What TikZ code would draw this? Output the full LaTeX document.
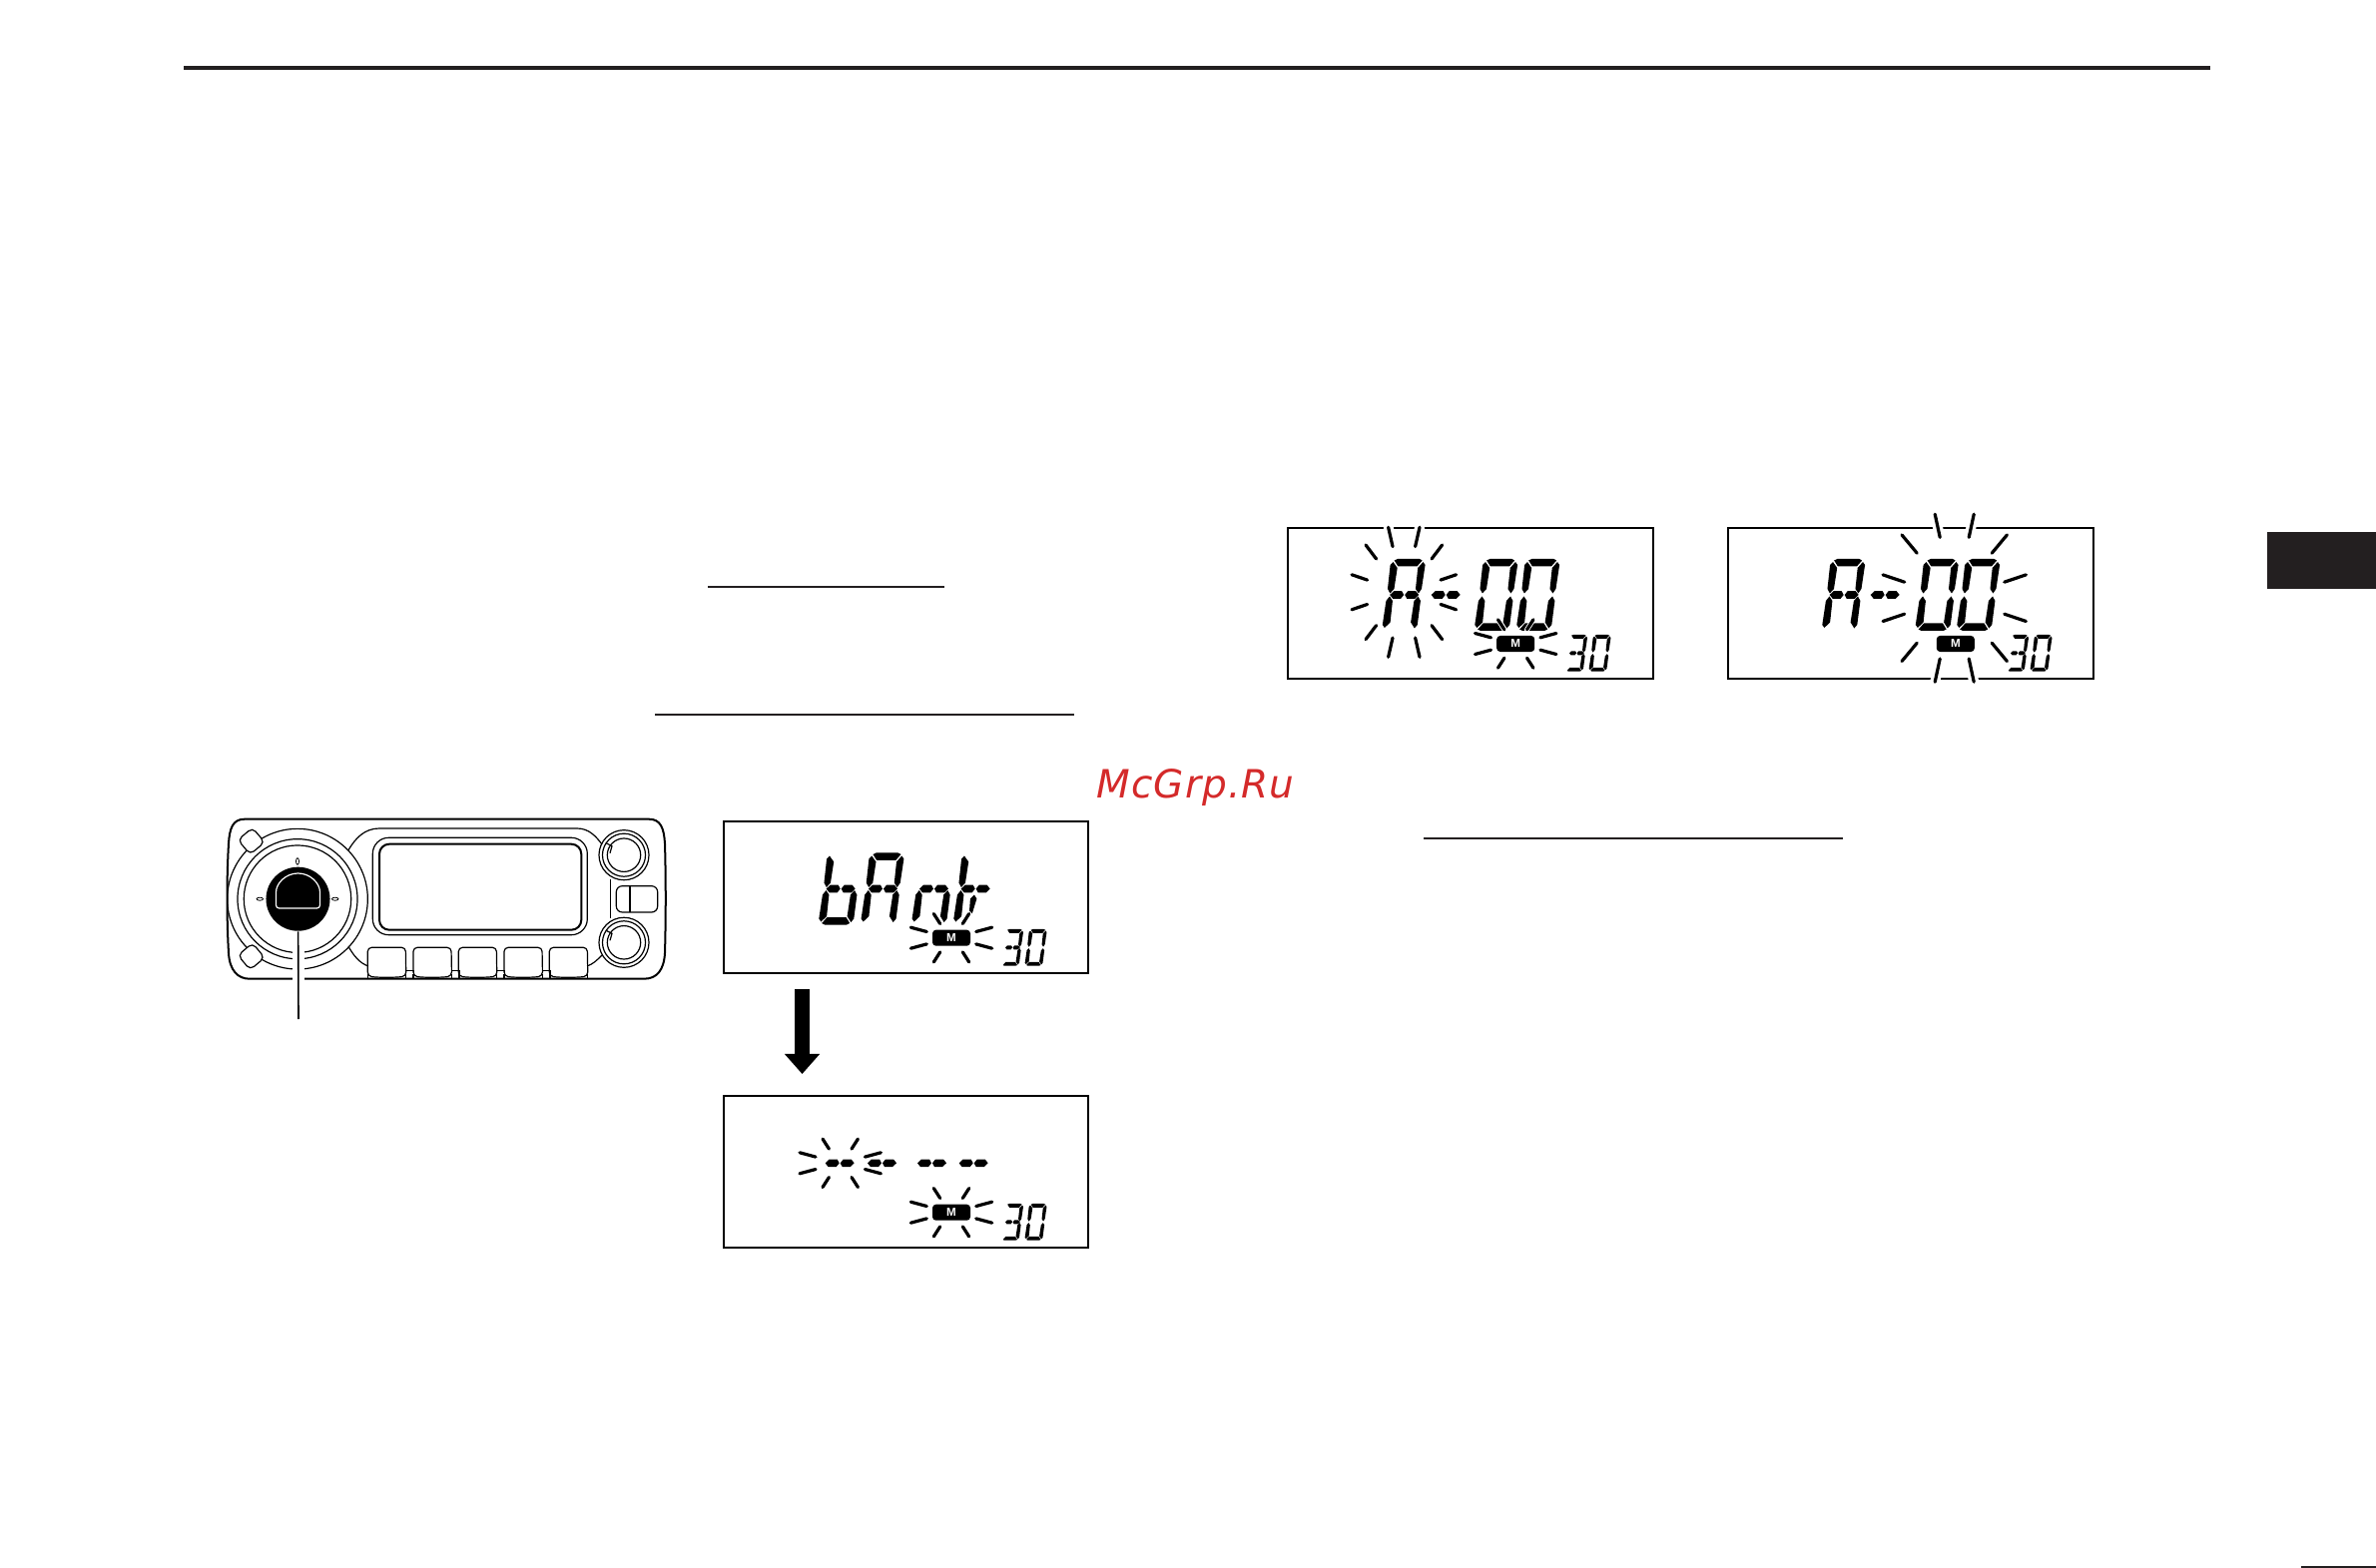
\documentclass[tikz,border=0pt]{standalone}
\usepackage{fontspec}
\usepackage{tikz}
\usetikzlibrary{arrows.meta,shapes.geometric}
\newfontfamily\markfont[LetterSpace=2.6]{DejaVu Sans}
\newfontfamily\badgefont{Liberation Sans}
\definecolor{ink}{HTML}{231F20}
\definecolor{markred}{HTML}{D42A2A}

\tikzset{
	rule/.style={ink, line width=.04cm},
	thinrule/.style={ink, line width=.022cm},
	lcdbox/.style={draw=black, line width=.022cm, outer sep=0pt},
	lcdray/.style={black, line width=.032cm, line cap=round},
	lcdhalo/.style={white, line width=#1, line cap=round},
	badge/.style={draw=none, fill=black, rectangle, rounded corners=.035cm, minimum width=.38cm, minimum height=.16cm, inner sep=0pt, text=white, font=\badgefont\bfseries\fontsize{3.3}{4}\selectfont},
	radio/.style={black, line width=.012cm},
	radiothick/.style={black, line width=.02cm},
	lug/.style={draw=black, fill=white, line width=.012cm, rectangle, rotate=40, rounded corners=.05cm, minimum size=.19cm, inner sep=0pt},
	tick/.style={draw=black, fill=white, line width=.008cm, ellipse, inner sep=0pt}
}

% LCD segments, one character is 34 wide and 72 high
\newcommand{\lcdsega}{(3,1.5)--(6,0)--(28,0)--(31,1.5)--(26.5,7.5)--(7.5,7.5)--cycle}
\newcommand{\lcdsegb}{(32,3)--(34.5,6)--(34,30)--(31.5,34.5)--(28,30)--(27.5,9)--cycle}
\newcommand{\lcdsegc}{(31.5,37.5)--(34.5,42)--(34.5,66)--(32,69.5)--(27.5,63.5)--(28,42)--cycle}
\newcommand{\lcdsegd}{(3,70.5)--(7.5,64.5)--(26.5,64.5)--(31,70.5)--(28,72)--(6,72)--cycle}
\newcommand{\lcdsege}{(3,37.5)--(6.5,42)--(7,63.5)--(2,69)--(-.5,66)--(0,42)--cycle}
\newcommand{\lcdsegf}{(2,3)--(7,9)--(6.5,30)--(3,34.5)--(0,30)--(-.5,6)--cycle}
\newcommand{\lcdsegp}{(3,36)--(6.5,32.2)--(14.5,32.2)--(17,36)--(14.5,39.8)--(6.5,39.8)--cycle}
\newcommand{\lcdsegq}{(18,36)--(20.5,32.2)--(28.5,32.2)--(32,36)--(28.5,39.8)--(20.5,39.8)--cycle}
\newcommand{\lcdsegr}{(17,42)--(20,46)--(17.5,60)--(14.5,63)--(13.5,46)--cycle}
\newcommand{\lcdchar}[4]{
	\begin{scope}[shift={(#1,#2)}, xslant=.13, scale=#3, shift={(0,-72)}]
		\foreach \seg in {#4} {\fill[black] \csname lcdseg\seg\endcsname;}
	\end{scope}
}
\newcommand{\lcdthirty}[2]{
	\lcdchar{#1}{#2}{.51}{a,b,c,d,p,q}
	\lcdchar{#1+23.5}{#2}{.51}{a,b,c,d,e,f}
}
\newcommand{\lcdburst}[4]{
	\foreach \xa/\ya/\xb/\yb in #3 {
		\foreach \sx in {-1,1} {
			\foreach \sy in {-1,1} {
				\draw[lcdhalo=#4] ({#1+\sx*\xa},{#2+\sy*\ya}) -- ({#1+\sx*\xb},{#2+\sy*\yb});
				\draw[lcdray] ({#1+\sx*\xa},{#2+\sy*\ya}) -- ({#1+\sx*\xb},{#2+\sy*\yb});
			}
		}
	}
}
\newcommand{\smallrays}{11.3/14.2/17.7/24.2, 24.7/6.2/40.7/10.5}
\newcommand{\grouprays}{11.3/45.7/15.7/65, 27.7/33.3/38.3/47.3, 36.7/12.2/52.3/17.5}
\newcommand{\chanrays}{14.5/60.8/19.5/84, 37.5/45/52.7/63.3, 50/16/71.7/23.3}

\begin{document}
\begin{tikzpicture}[x=.01cm, y=-.01cm]
	\useasboundingbox (0,0) rectangle (2380,1571);
	
	% Page rules
	\coordinate (topa) at (184,68);
	\coordinate (topb) at (2214,68);
	\draw[rule] (topa) -- (topb);
	\coordinate (linea) at (709,588);
	\coordinate (lineb) at (946,588);
	\draw[thinrule] (linea) -- (lineb);
	\coordinate (linec) at (656,716);
	\coordinate (lined) at (1076,716);
	\draw[thinrule] (linec) -- (lined);
	\coordinate (linee) at (1426,840);
	\coordinate (linef) at (1846,840);
	\draw[thinrule] (linee) -- (linef);
	\node (tab) [fill=ink, rectangle, outer sep=0pt, minimum width=1.09cm, minimum height=.57cm, inner sep=0pt, anchor=north west] at (2271,533) {};
	\coordinate (folioa) at (2305,1570);
	\coordinate (foliob) at (2380,1570);
	\draw[thinrule] (folioa) -- (foliob);
	\node (watermark) [text=markred, anchor=base west, inner sep=0pt, font=\markfont\itshape\fontsize{11.1}{13}\selectfont] at (1098,800) {McGrp.Ru};
	
	% Radio panel
	\draw[radiothick] (245,820.7) -- (650,820.7) .. controls (662,820.7) and (665,830) .. (666,845) .. controls (667,880) and (667,920) .. (666,955) .. controls (665,972) and (658,980.7) .. (645,980.7) -- (250,980.7) .. controls (238,980.7) and (230,972) .. (229,955) .. controls (227,920) and (227,880) .. (229,845) .. controls (230,830) and (233,820.7) .. (245,820.7) -- cycle;
	\draw[radio] (349,851.7) .. controls (356,840) and (365,830) .. (380,830) -- (578,830) .. controls (590,830) and (597,838) .. (603,846);
	\draw[radio] (349,948.3) .. controls (354,957) and (360,965) .. (369,968);
	\draw[radio] (588,968) .. controls (594,966) and (598,962) .. (603,957);
	\draw[radio] (611.7,881) -- (611.7,920);
	\draw[radio, rounded corners=.16cm] (373.3,839.3) rectangle (588.3,936.7);
	\draw[radiothick, rounded corners=.1cm] (380,845.7) rectangle (582.3,931.7);
	
	\foreach \ky in {856.7,944.3} {
		\draw[radio] (625,\ky) circle [radius=.25cm];
		\draw[radio] (625,\ky) circle [radius=.215cm];
		\draw[radio] (625,\ky) circle [radius=.167cm];
		\draw[radio] (607,{\ky-12}) -- (613,{\ky-9}) -- (611,{\ky-2});
	}
	\draw[radio, rounded corners=.06cm] (617.3,887.7) rectangle (658.7,914);
	\draw[radio] (631,887.7) -- (631,914);
	
	\foreach \bx in {368.3,414,459.3,505,550.3} {
		\draw[radio, rounded corners=.04cm] (\bx,949.3) -- ({\bx+38},949.3) -- ({\bx+38.5},978) .. controls ({\bx+28},979.5) and ({\bx+10},979.5) .. (\bx,978) -- cycle;
		\draw[radio] (\bx,976) -- (\bx,980);
		\draw[radio] ({\bx+38.5},976) -- ({\bx+38.5},980);
	}
	\foreach \gx in {406.8,452.5,497.8,543.5} {
		\draw[radio] (\gx,972.7) -- ({\gx+7.5},972.7);
		\draw[radio] ({\gx+7.5},972) -- ({\gx+7.5},980);
	}
	
	% Dial
	\draw[radio] (298,900.7) circle [radius=.703cm];
	\draw[radio] (298,900.7) circle [radius=.6cm];
	\draw[radio] (298,900.7) circle [radius=.537cm];
	\node (luga) [lug] at (251.7,842.7) {};
	\node (lugb) [lug] at (251.7,958.3) {};
	\node (ticka) [tick, minimum width=.03cm, minimum height=.065cm] at (298,863) {};
	\node (tickb) [tick, minimum width=.065cm, minimum height=.03cm] at (260.3,900.7) {};
	\node (tickc) [tick, minimum width=.065cm, minimum height=.03cm] at (335.7,900.7) {};
	\coordinate (leaderend) at (299,1021);
	\fill[white] (293,935) rectangle (305,982.5);
	\node (dialknob) [circle, fill=black, minimum size=.64cm, inner sep=0pt] at (298.5,900.7) {};
	\draw[white, line width=.012cm, rounded corners=.03cm] (276.5,910) -- (276.5,897) arc (180:0:.22cm) -- (320.5,910) -- cycle;
	\draw[black, line width=.016cm] (dialknob) -- (leaderend);
	
	% Bank display
	\node (bankbox) [lcdbox, rectangle, minimum width=3.65cm, minimum height=1.52cm, inner sep=0pt, anchor=north west] at (725,822.7) {};
	\lcdchar{820}{926.5}{1}{c,d,e,f,p,q}
	\lcdchar{862.3}{926.5}{1}{a,b,c,e,f,p,q}
	\lcdchar{913.3}{926.5}{1}{c,e,p,q}
	\lcdchar{955}{926.5}{1}{e,f,p,q,r}
	\lcdthirty{1003}{967.7}
	\lcdburst{953}{939.7}{\smallrays}{.05cm}
	\node (banktag) [badge] at (953,939.7) {M};
	
	% Arrow
	\coordinate (arrowtop) at (803.5,991);
	\coordinate (arrowtip) at (803.5,1076);
	\draw[black, line width=.145cm, -{Triangle[length=.2cm, width=.34cm]}] (arrowtop) -- (arrowtip);
	
	% Blank display
	\node (blankbox) [lcdbox, rectangle, minimum width=3.65cm, minimum height=1.52cm, inner sep=0pt, anchor=north west] at (725,1097.7) {};
	\foreach \cx in {819,861.3,911.3,953} {
		\lcdchar{\cx}{1201.3}{1}{p,q}
	}
	\lcdburst{841.7}{1165.3}{\smallrays}{.05cm}
	\lcdthirty{1003}{1242.7}
	\lcdburst{953}{1214.7}{\smallrays}{.05cm}
	\node (blanktag) [badge] at (953,1214.7) {M};
	
	% Group display
	\node (groupbox) [lcdbox, rectangle, minimum width=3.66cm, minimum height=1.51cm, inner sep=0pt, anchor=north west] at (1290,529) {};
	\lcdchar{1384.5}{632}{1}{a,b,c,e,f,p,q}
	\lcdchar{1426}{632}{1}{p,q}
	\lcdchar{1477}{632}{1}{a,b,c,d,e,f}
	\lcdchar{1519}{632}{1}{a,b,c,d,e,f}
	\lcdthirty{1568}{672.7}
	\lcdburst{1406.3}{593.3}{\grouprays}{.1cm}
	\lcdburst{1518.2}{645}{\smallrays}{.05cm}
	\node (grouptag) [badge] at (1518.2,645) {M};
	
	% Channel display
	\node (chanbox) [lcdbox, rectangle, minimum width=3.66cm, minimum height=1.51cm, inner sep=0pt, anchor=north west] at (1730.7,529) {};
	\lcdchar{1825}{632}{1}{a,b,c,e,f,p,q}
	\lcdchar{1866}{632}{1}{p,q}
	\lcdchar{1918.5}{632}{1}{a,b,c,d,e,f}
	\lcdchar{1960}{632}{1}{a,b,c,d,e,f}
	\lcdthirty{2010}{672.7}
	\lcdburst{1957.7}{599.2}{\chanrays}{.1cm}
	\node (chantag) [badge] at (1958.8,645) {M};
\end{tikzpicture}
\end{document}
